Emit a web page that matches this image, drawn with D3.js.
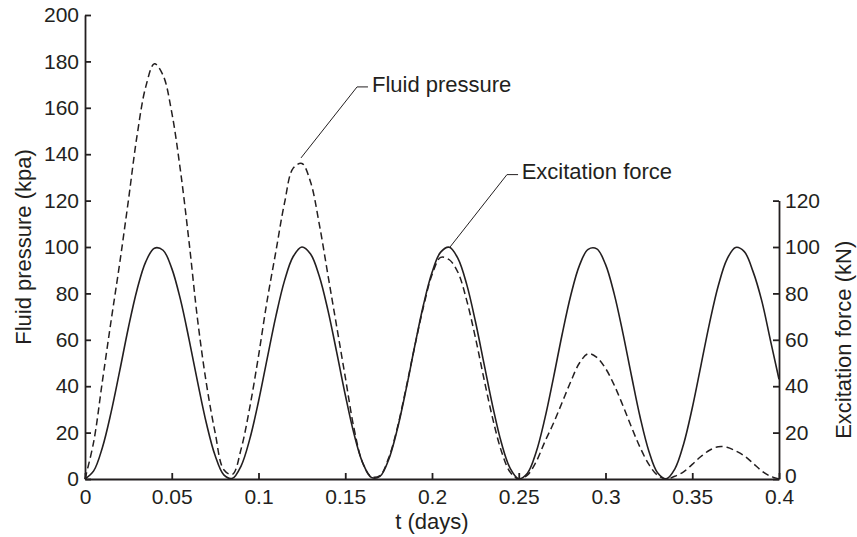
<!DOCTYPE html>
<html>
<head>
<meta charset="utf-8">
<script src="https://cdn.jsdelivr.net/npm/d3@7"></script>
<style>
  body { margin: 0; background: #fff; }
  text { font-family: "Liberation Sans", Arial, Helvetica, sans-serif; fill: #231f20; }
</style>
</head>
<body>
<svg id="chart"></svg>
<script>
// sample times (days)
const days = [
  0, 0.005, 0.01, 0.015, 0.02, 0.025, 0.03, 0.035, 0.04, 0.045, 0.05, 0.055, 0.06, 0.065, 0.07, 0.075, 0.08,
  0.085, 0.09, 0.095, 0.1, 0.105, 0.11, 0.115, 0.12, 0.125, 0.13, 0.135, 0.14, 0.145, 0.15, 0.155, 0.16, 0.165,
  0.17, 0.175, 0.18, 0.185, 0.19, 0.195, 0.2, 0.205, 0.21, 0.215, 0.22, 0.225, 0.23, 0.235, 0.24, 0.245,
  0.25, 0.255, 0.26, 0.265, 0.27, 0.275, 0.28, 0.285, 0.29, 0.295, 0.3, 0.305, 0.31, 0.315, 0.32, 0.325, 0.33,
  0.335, 0.34, 0.345, 0.35, 0.355, 0.36, 0.365, 0.37, 0.375, 0.38, 0.385, 0.39, 0.395, 0.4
];

// fluid pressure (kpa), dashed
const pressure = [
  0, 16, 42, 68, 93, 120, 148, 169, 179, 174, 158, 133, 102, 68, 41, 20, 4,
  2, 13, 31, 53, 77, 98, 119, 134, 136, 128, 110, 88, 66, 44, 22, 7, 1,
  1.5, 9, 22, 39, 57, 74, 88, 95.5, 94.5, 89, 77, 61, 43, 26, 12, 3,
  0, 1.7, 7.4, 16, 24, 33, 42, 50, 54, 52.4, 47.7, 40.5, 31.7, 22.3, 13.5, 6.3, 1.6,
  0, 1.2, 3.1, 6.3, 9.7, 12.4, 13.9, 13.7, 12.1, 10, 6.8, 3.5, 1.2, 0
];

// excitation force (kN), solid
const force = [
  0, 3.5, 13.5, 28.6, 46.6, 65.2, 81.6, 93.6, 99.5, 98.6, 90.8, 77.4, 60.1, 41.4, 23.9, 10.1, 1.8,
  0.3, 5.7, 17.3, 33.4, 51.9, 70.1, 85.5, 95.9, 100, 97.0, 87.5, 72.8, 54.9, 36.3, 19.6, 7.1, 0.7,
  1.1, 8.3, 21.4, 38.4, 57.1, 74.8, 89.0, 97.8, 99.9, 95.0, 83.9, 68.0, 49.6, 31.3, 15.6, 4.7,
  0.1, 2.5, 11.5, 25.9, 43.6, 62.3, 79.2, 92.1, 99.0, 99.2, 92.5, 79.8, 63.0, 44.4, 26.5, 12.0, 2.7,
  0.1, 4.4, 15.0, 30.6, 48.9, 67.3, 83.3, 94.7, 99.8, 98.0, 89.5, 77, 60, 43
];

const xTicks = [0, 0.05, 0.1, 0.15, 0.2, 0.25, 0.3, 0.35, 0.4];
const xTickLabels = ["0", "0.05", "0.1", "0.15", "0.2", "0.25", "0.3", "0.35", "0.4"];
const leftTicks = [0, 20, 40, 60, 80, 100, 120, 140, 160, 180, 200];
const rightTicks = [0, 20, 40, 60, 80, 100, 120];

// callouts: anchor point on curve, elbow, label position (data units)
const callouts = [
  { label: "Fluid pressure", anchor: [0.1245, 138.4], elbow: [0.1568, 169], end: [0.1631, 169], text: [0.1654, 166.8] },
  { label: "Excitation force", anchor: [0.2104, 100], elbow: [0.2432, 131.2], end: [0.2496, 131.2], text: [0.2517, 129.3] }
];

const width = 857, height = 537;
const margin = { top: 15, right: 78, bottom: 58, left: 85 };

const svg = d3.select("#chart").attr("width", width).attr("height", height);

const x = d3.scaleLinear().domain([0, 0.4]).range([margin.left, width - margin.right]);
const yL = d3.scaleLinear().domain([0, 200]).range([height - margin.bottom, margin.top]);
const yR = d3.scaleLinear().domain([0, 120]).range([yL(0), yL(120)]);

const ink = "#231f20";

// curves
const line = (yScale) => d3.line()
  .x((d, i) => x(days[i]))
  .y((d) => Math.min(yScale(d), yScale(0)))
  .curve(d3.curveCatmullRom.alpha(0.5));

svg.append("path")
  .datum(pressure)
  .attr("fill", "none")
  .attr("stroke", ink)
  .attr("stroke-width", 1.5)
  .attr("stroke-dasharray", "7,4")
  .attr("d", line(yL));

svg.append("path")
  .datum(force)
  .attr("fill", "none")
  .attr("stroke", ink)
  .attr("stroke-width", 1.6)
  .attr("d", line(yR));

// axes
function styleAxis(g) {
  g.selectAll("path, line").attr("stroke", ink).attr("stroke-width", 1.8);
  g.selectAll("text").attr("font-size", 21).attr("fill", ink)
    .style("font-family", '"Liberation Sans", Arial, Helvetica, sans-serif');
}

svg.append("g")
  .attr("transform", `translate(0,${yL(0)})`)
  .call(d3.axisBottom(x).tickValues(xTicks).tickFormat((d, i) => xTickLabels[i])
    .tickSizeInner(-6).tickSizeOuter(0).tickPadding(10))
  .call(styleAxis);

svg.append("g")
  .attr("transform", `translate(${x(0)},0)`)
  .call(d3.axisLeft(yL).tickValues(leftTicks).tickSizeInner(-6).tickSizeOuter(0).tickPadding(6))
  .call(styleAxis);

const rightAxis = svg.append("g")
  .attr("transform", `translate(${x(0.4)},0)`)
  .call(d3.axisRight(yR).tickValues(rightTicks).tickSizeInner(-6).tickSizeOuter(0).tickPadding(6))
  .call(styleAxis);

// the right-hand "0" sits a little above its tick, clear of the 0.4 label
rightAxis.selectAll(".tick").filter((d) => d === 0).select("text").attr("y", -3);

// axis titles
svg.append("text")
  .attr("x", (x(0) + x(0.4)) / 2)
  .attr("y", 529)
  .attr("text-anchor", "middle")
  .attr("font-size", 22)
  .text("t (days)");

svg.append("text")
  .attr("transform", `translate(31,${(yL(0) + yL(200)) / 2}) rotate(-90)`)
  .attr("text-anchor", "middle")
  .attr("font-size", 22)
  .text("Fluid pressure (kpa)");

svg.append("text")
  .attr("transform", `translate(851,${(yR(0) + yR(120)) / 2}) rotate(-90)`)
  .attr("text-anchor", "middle")
  .attr("font-size", 22)
  .text("Excitation force (kN)");

// callouts
callouts.forEach((c) => {
  svg.append("path")
    .attr("fill", "none")
    .attr("stroke", ink)
    .attr("stroke-width", 1)
    .attr("d", d3.line()([
      [x(c.anchor[0]), yL(c.anchor[1])],
      [x(c.elbow[0]), yL(c.elbow[1])],
      [x(c.end[0]), yL(c.end[1])]
    ]));
  svg.append("text")
    .attr("x", x(c.text[0]))
    .attr("y", yL(c.text[1]))
    .attr("font-size", 22)
    .text(c.label);
});
</script>
</body>
</html>
